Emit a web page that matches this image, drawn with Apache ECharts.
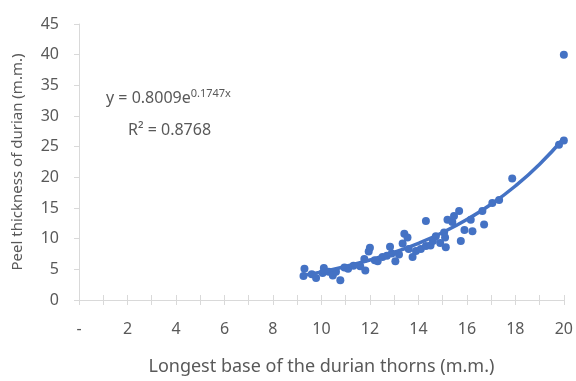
<!DOCTYPE html>
<html><head><meta charset="utf-8">
<script src="https://cdn.jsdelivr.net/npm/echarts@6/dist/echarts.min.js"></script>
<style>html,body{margin:0;padding:0;background:#fff}#c{width:576px;height:381px}</style>
</head><body><div id="c"></div>
<script>
const thornBase = [9.3,9.26,9.6,9.78,10.05,10.1,10.3,10.47,10.6,10.78,10.95,11.1,11.32,11.6,11.77,11.81,11.95,12.0,12.2,12.32,12.52,12.7,12.83,12.9,13.05,13.2,13.35,13.42,13.55,13.6,13.76,13.9,14.1,14.31,14.31,14.5,14.6,14.72,14.9,15.06,15.13,15.1,15.2,15.4,15.47,15.68,15.75,15.9,16.16,16.23,16.64,16.71,17.05,17.33,17.87,19.8,20,20];
const peelThickness = [5.1,3.9,4.2,3.6,4.4,5.2,4.6,4.0,4.6,3.2,5.3,5.1,5.6,5.5,6.7,4.8,7.9,8.5,6.5,6.3,7.0,7.2,8.7,7.6,6.3,7.4,9.2,10.8,10.2,8.3,7.0,8.0,8.3,12.9,8.8,8.9,9.6,10.4,9.3,11.0,8.6,10.2,13.1,12.7,13.7,14.5,9.6,11.4,13.1,11.2,14.5,12.3,15.8,16.3,19.8,25.3,26.0,40.0];
const trendX = [9.2,10,11,12,13,14,15,16,17,18,19,20];
const trendY = [3.99,4.59,5.47,6.52,7.76,9.24,11.01,13.11,15.61,18.59,22.14,26.37];
const xTickLabels = ['-','2','4','6','8','10','12','14','16','18','20'];
const yTicks = [0,5,10,15,20,25,30,35,40,45];

const chart = echarts.init(document.getElementById('c'));
const font = 'Noto Sans';
const gray = '#595959';
const axisGray = '#d9d9d9';
chart.setOption({
  animation:false,
  grid:{left:79,right:11,top:24,bottom:77,containLabel:false},
  xAxis:[{
    type:'value',min:0,max:20,interval:1,
    name:'Longest base of the durian thorns (m.m.)',nameLocation:'middle',nameGap:58,
    nameTextStyle:{fontFamily:font,fontSize:18,color:gray},
    axisLine:{show:true,lineStyle:{color:axisGray,width:1}},
    axisTick:{show:true,length:5,lineStyle:{color:axisGray}},
    splitLine:{show:false},
    axisLabel:{fontFamily:font,fontSize:16,color:gray,margin:21,
      formatter:function(v){return v%2===0?xTickLabels[v/2]:'';}}
  },{
    type:'value',min:0,max:20,interval:1,position:'bottom',
    axisLine:{show:false},axisLabel:{show:false},splitLine:{show:false},
    axisTick:{show:true,inside:true,length:5,lineStyle:{color:axisGray}}
  }],
  yAxis:{
    type:'value',min:0,max:45,interval:5,
    name:'Peel thickness of durian (m.m.)',nameLocation:'middle',nameGap:54,
    nameTextStyle:{fontFamily:font,fontSize:15,color:gray},
    axisLine:{show:true,lineStyle:{color:axisGray,width:1}},
    axisTick:{show:true,length:5,lineStyle:{color:axisGray}},
    splitLine:{show:false},
    axisLabel:{fontFamily:font,fontSize:16,color:gray,margin:20,
      formatter:function(v){return yTicks.indexOf(v)>=0?String(v):'';}}
  },
  series:[{
    type:'scatter',
    data:thornBase.map((x,i)=>[x,peelThickness[i]]),
    symbolSize:8,itemStyle:{color:'#4472C4',opacity:1},z:3
  },{
    type:'line',smooth:true,showSymbol:false,
    data:trendX.map((x,i)=>[x,trendY[i]]),
    lineStyle:{color:'#4472C4',width:3.5},z:4
  }],
  graphic:[{
    type:'text',left:106,top:88,
    style:{rich:{b:{fontFamily:font,fontSize:16,fill:gray},s:{fontFamily:font,fontSize:11,fill:gray,verticalAlign:'top',padding:[0,0,9,0]}},
      text:'{b|y = 0.8009e}{s|0.1747x}',fill:gray}
  },{
    type:'text',left:128,top:122,
    style:{text:'R² = 0.8768',fontFamily:font,fontSize:16,fill:gray}
  }]
});
</script></body></html>
